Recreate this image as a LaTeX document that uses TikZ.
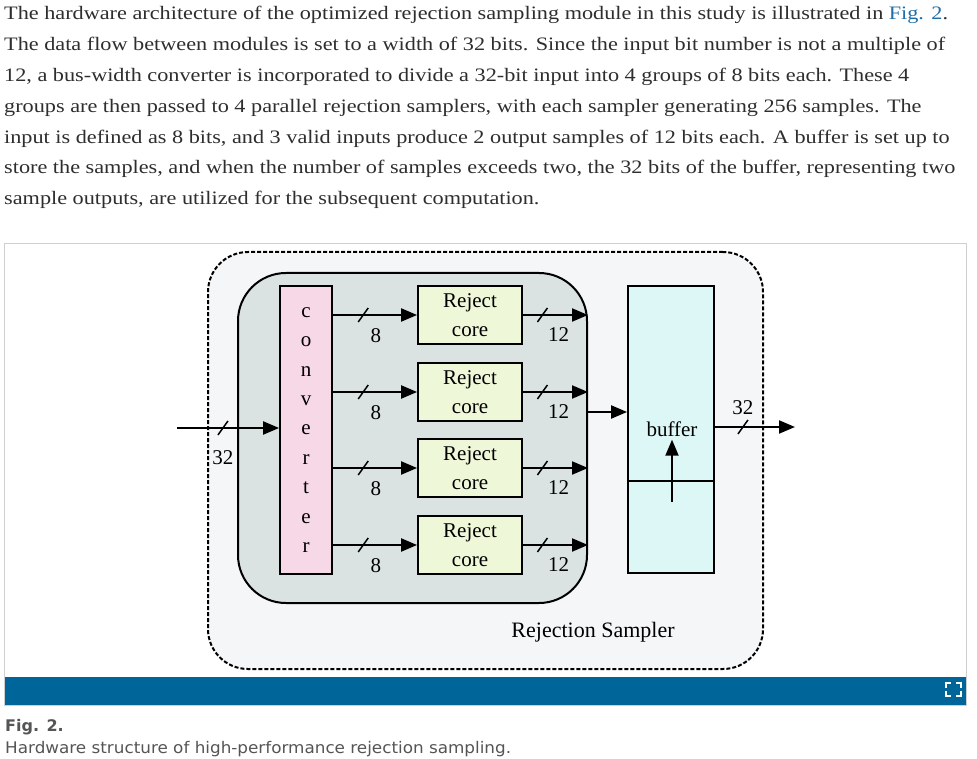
\documentclass[tikz,border=0pt]{standalone}
\usepackage{fontspec}
\setmainfont{Liberation Serif}
\newfontfamily\bodyfont[FakeStretch=1.17]{Liberation Serif}
\newfontfamily\capfont{DejaVu Sans}
\newfontfamily\capwidefont[FakeStretch=1.05]{DejaVu Sans}
\usepackage{xcolor}
\usetikzlibrary{arrows.meta,positioning}
\definecolor{textdark}{HTML}{2E2E2E}
\definecolor{linkblue}{HTML}{1F6FA8}
\definecolor{capgray}{HTML}{555555}
\definecolor{framegray}{HTML}{CFCFCF}
\definecolor{barblue}{HTML}{00669A}
\definecolor{outerfill}{HTML}{F4F6F8}
\definecolor{innerfill}{HTML}{DAE2E2}
\definecolor{convfill}{HTML}{F7D8E6}
\definecolor{rejfill}{HTML}{EEF7D8}
\definecolor{buffill}{HTML}{DDF7F7}
\tikzset{
    para-line/.style = {anchor=base west, inner sep=0pt, text=textdark, font=\bodyfont\fontsize{19}{20}\selectfont},
    outer-box/.style = {draw, line width=2pt, dash pattern=on 4pt off 2pt, rounded corners=40pt, fill=outerfill, inner sep=0pt},
    inner-box/.style = {draw, line width=2pt, rounded corners=48pt, fill=innerfill, inner sep=0pt},
    conv-box/.style = {draw, line width=1.8pt, fill=convfill, minimum width=52pt, minimum height=288pt, align=center, font=\fontsize{21}{29.4}\selectfont},
    reject-box/.style = {draw, line width=1.8pt, fill=rejfill, minimum width=104pt, minimum height=58pt, align=center, inner sep=0pt, font=\fontsize{21}{29}\selectfont},
    buf-box/.style = {draw, line width=1.8pt, fill=buffill, minimum width=86pt, minimum height=287pt},
    bus/.style = {line width=2pt, -{Triangle[length=16pt,width=13pt]}},
    bit-label/.style = {inner sep=0pt, font=\fontsize{21}{22}\selectfont},
    bus-slash/.pic = {\draw[arrows=-, line width=1.5pt] (-5,7) -- (5,-7);},
}

\begin{document}
\begin{tikzpicture}[x=1pt,y=-1pt]
\useasboundingbox (0,0) rectangle (977,759);
\fill[white] (0,0) rectangle (977,759);

% text above the figure
\node[para-line] (line1) at (4,20) {The hardware architecture of the optimized rejection sampling module in this study is illustrated in \textcolor{linkblue}{Fig. 2}.};
\node[para-line] (line2) at (4,50.8) {The data flow between modules is set to a width of 32 bits. Since the input bit number is not a multiple of};
\node[para-line] (line3) at (4,81.6) {12, a bus-width converter is incorporated to divide a 32-bit input into 4 groups of 8 bits each. These 4};
\node[para-line] (line4) at (4,112.4) {groups are then passed to 4 parallel rejection samplers, with each sampler generating 256 samples. The};
\node[para-line] (line5) at (4,143.2) {input is defined as 8 bits, and 3 valid inputs produce 2 output samples of 12 bits each. A buffer is set up to};
\node[para-line] (line6) at (4,174) {store the samples, and when the number of samples exceeds two, the 32 bits of the buffer, representing two};
\node[para-line] (line7) at (4,204.8) {sample outputs, are utilized for the subsequent computation.};

% figure frame and bar
\draw[framegray] (4.5,243.5) rectangle (966.5,705);
\fill[barblue] (5,677) rectangle (966,705);
\draw[white, line width=2.5pt]
    (946,688) -- (946,683) -- (951,683)
    (956,683) -- (961,683) -- (961,688)
    (961,691) -- (961,696) -- (956,696)
    (951,696) -- (946,696) -- (946,691);

% the sampler
\node[outer-box, minimum width=555pt, minimum height=417pt] (sampler) at (485.5,460.5) {};
\node[inner-box, minimum width=349pt, minimum height=330pt] (core) at (412.5,438) {};
\node[conv-box] (conv) at (306,430) {c\\o\\n\\v\\e\\r\\t\\e\\r};
\node[reject-box] (rej1) at (470,315) {Reject\\core};
\node[reject-box] (rej2) at (470,392) {Reject\\core};
\node[reject-box] (rej3) at (470,468) {Reject\\core};
\node[reject-box] (rej4) at (470,545) {Reject\\core};
\node[buf-box] (buf) at (671,429.5) {};
\draw[line width=1.8pt] (buf.west |- 0,481) -- (buf.east |- 0,481);
\node[bit-label] (buftext) at (672,429) {buffer};
\coordinate (bufin) at (672,502);
\draw[bus, shorten >=3pt] (bufin) -- (buftext.south);
\node[font=\fontsize{22}{24}\selectfont] (title) at (593,632) {Rejection Sampler};

% buses
\foreach \i in {1,...,4} {
    \draw[bus] (conv.east |- rej\i.west) -- (rej\i.west)
        pic[pos=.36]{bus-slash} node[bit-label, pos=.51, yshift=-21pt]{8};
    \draw[bus] (rej\i.east) -- (core.east |- rej\i.east)
        pic[pos=.3]{bus-slash} node[bit-label, pos=.55, yshift=-20pt]{12};
}
\draw[bus] ([yshift=26pt]core.east) -- ([yshift=26pt]core.east -| buf.west);
\coordinate (in) at (177,428);
\coordinate (out) at (795,427);
\draw[bus] (in) -- (conv.west |- in) pic[pos=.45]{bus-slash} node[bit-label, pos=.45, yshift=-30pt]{32};
\draw[bus] (buf.east |- out) -- (out) pic[pos=.35]{bus-slash} node[bit-label, pos=.35, yshift=19pt]{32};

% caption
\node[anchor=base west, inner sep=0pt, text=capgray, font=\capfont\bfseries\fontsize{16}{18}\selectfont] (figno) at (5,731) {Fig. 2.};
\node[anchor=base west, inner sep=0pt, text=capgray, font=\capwidefont\fontsize{16}{18}\selectfont] (figcap) at (5,753) {Hardware structure of high-performance rejection sampling.};
\end{tikzpicture}
\end{document}
